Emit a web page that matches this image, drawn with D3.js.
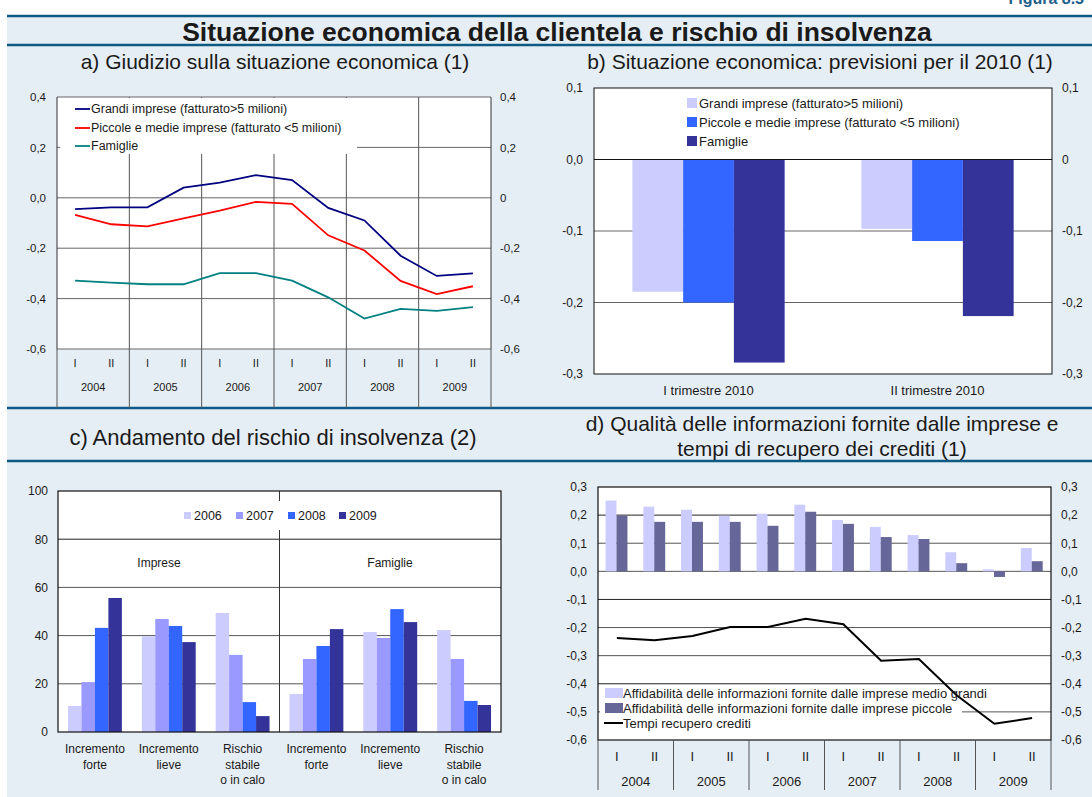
<!DOCTYPE html>
<html>
<head>
<meta charset="utf-8">
<script src="https://cdn.jsdelivr.net/npm/d3@7"></script>
<style>
body { margin: 0; background: #fff; }
svg text { font-family: "Liberation Sans", Arial, sans-serif; fill: #1a1a1a; }
</style>
</head>
<body>
<div id="chart"></div>
<script>
// ---- data ----
var anni = ["2004", "2005", "2006", "2007", "2008", "2009"];
var semestri = ["I", "II"];
var periodi = [];
anni.forEach(function(a){ semestri.forEach(function(s){ periodi.push(a + "-" + s); }); });

// a) giudizio sulla situazione economica
var grandiImprese  = [-0.045, -0.038, -0.038, 0.040, 0.060, 0.090, 0.070, -0.040, -0.090, -0.230, -0.310, -0.300];
var piccoleImprese = [-0.068, -0.105, -0.113, -0.082, -0.051, -0.016, -0.024, -0.149, -0.209, -0.330, -0.382, -0.351];
var famiglie       = [-0.329, -0.337, -0.343, -0.343, -0.299, -0.299, -0.329, -0.395, -0.479, -0.441, -0.449, -0.434];

// b) previsioni per il 2010
var trimestri2010 = ["I trimestre 2010", "II trimestre 2010"];
var prevGrandi   = [-0.185, -0.097];
var prevPiccole  = [-0.200, -0.114];
var prevFamiglie = [-0.284, -0.219];

// c) andamento del rischio di insolvenza
var rischioAnni = ["2006", "2007", "2008", "2009"];
var rischioVoci = ["Incremento forte", "Incremento lieve", "Rischio stabile o in calo"];
var rischioEtichette = [["Incremento", "forte"], ["Incremento", "lieve"], ["Rischio", "stabile", "o in calo"]];
var rischioImprese  = [[10.8, 20.7, 43.2, 55.6], [39.7, 46.9, 44.0, 37.3], [49.4, 32.0, 12.4, 6.6]];
var rischioFamiglie = [[15.8, 30.3, 35.7, 42.7], [41.5, 39.0, 51.0, 45.6], [42.3, 30.3, 12.9, 11.2]];

// d) qualita' delle informazioni e tempi di recupero
var affidGrandi   = [0.252, 0.230, 0.219, 0.198, 0.205, 0.237, 0.183, 0.158, 0.129, 0.068, 0.007, 0.083];
var affidPiccole  = [0.198, 0.176, 0.176, 0.176, 0.162, 0.212, 0.169, 0.122, 0.115, 0.029, -0.020, 0.036];
var tempiRecupero = [-0.237, -0.245, -0.230, -0.198, -0.198, -0.169, -0.188, -0.318, -0.312, -0.441, -0.542, -0.522];

var W = 1092, H = 797;
var blu = "#0d5a85", fondo = "#e6eef5", griglia = "#666";

var svg = d3.select("#chart").append("svg")
    .attr("width", W).attr("height", H);

svg.append("rect").attr("x", 7).attr("y", 16).attr("width", W - 7).attr("height", H - 16)
    .attr("fill", fondo);

// figure number, cut at the top edge
svg.append("text").attr("x", 1084).attr("y", 4).attr("text-anchor", "end")
    .style("font-size", "16px").style("font-weight", "bold").style("fill", "#1f5f8b")
    .text("Figura 8.5");

[16, 45, 408, 461].forEach(function(yy){
    svg.append("line").attr("x1", 7).attr("x2", W).attr("y1", yy).attr("y2", yy)
        .attr("stroke", blu).attr("stroke-width", 2.5);
});

svg.append("text").attr("x", 557).attr("y", 41).attr("text-anchor", "middle")
    .style("font-size", "26.5px").style("font-weight", "bold")
    .text("Situazione economica della clientela e rischio di insolvenza");

function sottotitolo(x, y, t, size) {
    svg.append("text").attr("x", x).attr("y", y).attr("text-anchor", "middle")
        .style("font-size", size || "21px").text(t);
}
sottotitolo(275, 69, "a) Giudizio sulla situazione economica (1)");
sottotitolo(820, 69, "b) Situazione economica: previsioni per il 2010 (1)");
sottotitolo(273, 445, "c) Andamento del rischio di insolvenza (2)", "22px");
sottotitolo(822, 431, "d) Qualità delle informazioni fornite dalle imprese e");
sottotitolo(822, 456, "tempi di recupero dei crediti  (1)");

function virgola(d) { return d3.format(".1f")(d).replace(".", ",").replace("−", "-"); }
function virgolaZero(d) { return d === 0 ? "0" : virgola(d); }

function asse(g, ax, size) {
    g.call(ax);
    g.select(".domain").remove();
    g.selectAll("text").style("font-size", size).style("font-family", null).attr("fill", null);
}

// period axis shared by panels a and d
function assePeriodi(g, x, yBase, yFondo, size, dy1, dy2) {
    var xa = g.append("g").attr("transform", "translate(0," + yBase + ")");
    xa.selectAll("text.sem").data(periodi).enter().append("text")
        .attr("x", function(d){ return x(d) + x.bandwidth() / 2; })
        .attr("y", dy1).attr("text-anchor", "middle").style("font-size", size)
        .text(function(d){ return d.split("-")[1]; });
    xa.selectAll("text.anno").data(anni).enter().append("text")
        .attr("x", function(d){ return x(d + "-I") + x.bandwidth(); })
        .attr("y", dy2).attr("text-anchor", "middle").style("font-size", size)
        .text(function(d){ return d; });
    var bordi = anni.map(function(d){ return x(d + "-I"); }).concat([x.range()[1]]);
    g.selectAll("line.sep").data(bordi).enter().append("line")
        .attr("x1", function(d){ return d; }).attr("x2", function(d){ return d; })
        .attr("y1", yBase).attr("y2", yFondo).attr("stroke", "#555").attr("stroke-width", 1);
}

// ---------------- a) ----------------
(function(){
    var x0 = 57, x1 = 491, yT = 97, yB = 349;
    var g = svg.append("g");
    var x = d3.scaleBand().domain(periodi).range([x0, x1]);
    var y = d3.scaleLinear().domain([-0.6, 0.4]).range([yB, yT]);

    g.append("rect").attr("x", x0).attr("y", yT).attr("width", x1 - x0).attr("height", yB - yT)
        .attr("fill", "#fff");
    var ticks = [-0.6, -0.4, -0.2, 0, 0.2, 0.4];
    g.selectAll("line.grid").data(ticks).enter().append("line")
        .attr("x1", x0).attr("x2", x1)
        .attr("y1", function(d){ return y(d); }).attr("y2", function(d){ return y(d); })
        .attr("stroke", griglia).attr("stroke-width", 1);
    // year separators run through the plot here
    var bordi = anni.slice(1).map(function(d){ return x(d + "-I"); });
    g.selectAll("line.vy").data(bordi).enter().append("line")
        .attr("x1", function(d){ return d; }).attr("x2", function(d){ return d; })
        .attr("y1", yT).attr("y2", yB).attr("stroke", "#555");
    g.append("line").attr("x1", x0).attr("x2", x0).attr("y1", yT).attr("y2", yB).attr("stroke", "#333");
    g.append("line").attr("x1", x1).attr("x2", x1).attr("y1", yT).attr("y2", yB).attr("stroke", "#333");

    assePeriodi(g, x, yB, 408, "11px", 18, 42);

    asse(g.append("g").attr("transform", "translate(" + x0 + ",0)"),
        d3.axisLeft(y).tickValues(ticks).tickFormat(virgola).tickSize(0).tickPadding(11), "11.5px");
    asse(g.append("g").attr("transform", "translate(" + x1 + ",0)"),
        d3.axisRight(y).tickValues(ticks).tickFormat(virgolaZero).tickSize(0).tickPadding(9), "11.5px");

    var serie = [
        { nome: "Grandi imprese (fatturato>5 milioni)", valori: grandiImprese, colore: "#000080" },
        { nome: "Piccole e medie imprese (fatturato <5 milioni)", valori: piccoleImprese, colore: "#ff0000" },
        { nome: "Famiglie", valori: famiglie, colore: "#008080" }
    ];
    // legend box hides the grid behind it
    g.append("rect").attr("x", 60).attr("y", 98).attr("width", 297).attr("height", 56).attr("fill", "#fff");

    var line = d3.line()
        .x(function(d, i){ return x(periodi[i]) + x.bandwidth() / 2; })
        .y(function(d){ return y(d); });
    serie.forEach(function(s, k){
        g.append("path").datum(s.valori).attr("d", line)
            .attr("fill", "none").attr("stroke", s.colore).attr("stroke-width", 1.8);
        var ly = [109, 128, 146][k];
        g.append("line").attr("x1", 75).attr("x2", 90).attr("y1", ly).attr("y2", ly)
            .attr("stroke", s.colore).attr("stroke-width", 1.8);
        g.append("text").attr("x", 91).attr("y", ly).attr("dy", "0.35em")
            .style("font-size", "12.5px").text(s.nome);
    });
})();

// ---------------- b) ----------------
(function(){
    var x0 = 594, x1 = 1052, yT = 88, yB = 374;
    var g = svg.append("g");
    var xg = d3.scaleBand().domain(trimestri2010).range([x0, x1]).paddingInner(0.335).paddingOuter(0.1675);
    var serie = [
        { nome: "Grandi imprese (fatturato>5 milioni)", valori: prevGrandi, colore: "#ccccff" },
        { nome: "Piccole e medie imprese (fatturato <5 milioni)", valori: prevPiccole, colore: "#3366ff" },
        { nome: "Famiglie", valori: prevFamiglie, colore: "#333399" }
    ];
    var xs = d3.scaleBand().domain(d3.range(serie.length)).range([0, xg.bandwidth()]);
    var y = d3.scaleLinear().domain([-0.3, 0.1]).range([yB, yT]);
    var ticks = [-0.3, -0.2, -0.1, 0, 0.1];

    g.append("rect").attr("x", x0).attr("y", yT).attr("width", x1 - x0).attr("height", yB - yT)
        .attr("fill", "#fff");
    g.selectAll("line.grid").data([-0.2, -0.1]).enter().append("line")
        .attr("x1", x0).attr("x2", x1)
        .attr("y1", function(d){ return y(d); }).attr("y2", function(d){ return y(d); })
        .attr("stroke", griglia);

    serie.forEach(function(s, k){
        g.selectAll("rect.b" + k).data(s.valori).enter().append("rect")
            .attr("x", function(d, i){ return xg(trimestri2010[i]) + xs(k); })
            .attr("width", xs.bandwidth())
            .attr("y", y(0)).attr("height", function(d){ return y(d) - y(0); })
            .attr("fill", s.colore);
        var ly = [103, 122, 141][k];
        g.append("rect").attr("x", 687).attr("y", ly - 5).attr("width", 10).attr("height", 10).attr("fill", s.colore);
        g.append("text").attr("x", 699).attr("y", ly).attr("dy", "0.35em")
            .style("font-size", "13px").text(s.nome);
    });
    g.append("line").attr("x1", x0).attr("x2", x1).attr("y1", y(0)).attr("y2", y(0)).attr("stroke", "#111");
    g.append("rect").attr("x", x0).attr("y", yT).attr("width", x1 - x0).attr("height", yB - yT)
        .attr("fill", "none").attr("stroke", "#111");

    asse(g.append("g").attr("transform", "translate(" + x0 + ",0)"),
        d3.axisLeft(y).tickValues(ticks).tickFormat(virgola).tickSize(0).tickPadding(11), "12px");
    asse(g.append("g").attr("transform", "translate(" + x1 + ",0)"),
        d3.axisRight(y).tickValues(ticks).tickFormat(virgolaZero).tickSize(0).tickPadding(10), "12px");
    asse(g.append("g").attr("transform", "translate(0," + yB + ")"),
        d3.axisBottom(xg).tickSize(0).tickPadding(12), "13px");
})();

// ---------------- c) ----------------
(function(){
    var x0 = 58, x1 = 501, yT = 491, yB = 732;
    var g = svg.append("g");
    var gruppi = [];
    ["Imprese", "Famiglie"].forEach(function(p){ rischioVoci.forEach(function(v){ gruppi.push(p + "|" + v); }); });
    var valori = rischioImprese.concat(rischioFamiglie);
    var etichette = rischioEtichette.concat(rischioEtichette);
    var xg = d3.scaleBand().domain(gruppi).range([x0, x1]).paddingInner(0.27).paddingOuter(0.135);
    var xs = d3.scaleBand().domain(rischioAnni).range([0, xg.bandwidth()]);
    var y = d3.scaleLinear().domain([0, 100]).range([yB, yT]);
    var colori = ["#ccccff", "#9999ff", "#3366ff", "#333399"];
    var ticks = [0, 20, 40, 60, 80, 100];
    var xm = (x0 + x1) / 2;

    g.append("rect").attr("x", x0).attr("y", yT).attr("width", x1 - x0).attr("height", yB - yT)
        .attr("fill", "#fff");
    g.selectAll("line.grid").data([20, 40, 60, 80]).enter().append("line")
        .attr("x1", x0).attr("x2", x1)
        .attr("y1", function(d){ return y(d); }).attr("y2", function(d){ return y(d); })
        .attr("stroke", function(d){ return d === 80 ? "#222" : "#555"; });
    g.append("line").attr("x1", xm).attr("x2", xm).attr("y1", yT).attr("y2", yB).attr("stroke", "#333");

    valori.forEach(function(vs, i){
        g.selectAll("rect.g" + i).data(vs).enter().append("rect")
            .attr("x", function(d, k){ return xg(gruppi[i]) + xs(rischioAnni[k]); })
            .attr("width", xs.bandwidth())
            .attr("y", function(d){ return y(d); })
            .attr("height", function(d){ return yB - y(d); })
            .attr("fill", function(d, k){ return colori[k]; });
        var t = g.append("text").attr("text-anchor", "middle").style("font-size", "12px");
        etichette[i].forEach(function(r, j){
            t.append("tspan").attr("x", xg(gruppi[i]) + xg.bandwidth() / 2)
                .attr("y", yB + 21 + j * 15.5).text(r);
        });
    });

    // legend
    g.append("rect").attr("x", 175).attr("y", 501).attr("width", 210).attr("height", 29).attr("fill", "#fff");
    var lx = [184, 236, 288, 339];
    rischioAnni.forEach(function(a, k){
        g.append("rect").attr("x", lx[k]).attr("y", 512).attr("width", 7).attr("height", 7).attr("fill", colori[k]);
        g.append("text").attr("x", lx[k] + 10).attr("y", 516).attr("dy", "0.35em")
            .style("font-size", "12.5px").text(a);
    });
    g.append("text").attr("x", 159).attr("y", 563).attr("dy", "0.35em").attr("text-anchor", "middle")
        .style("font-size", "12px").text("Imprese");
    g.append("text").attr("x", 390).attr("y", 563).attr("dy", "0.35em").attr("text-anchor", "middle")
        .style("font-size", "12px").text("Famiglie");

    g.append("rect").attr("x", x0).attr("y", yT).attr("width", x1 - x0).attr("height", yB - yT)
        .attr("fill", "none").attr("stroke", "#111").attr("stroke-width", 1.2);

    asse(g.append("g").attr("transform", "translate(" + x0 + ",0)"),
        d3.axisLeft(y).tickValues(ticks).tickFormat(d3.format("d")).tickSize(0).tickPadding(10), "12px");
})();

// ---------------- d) ----------------
(function(){
    var x0 = 598, x1 = 1051, yT = 487, yB = 740;
    var g = svg.append("g");
    var x = d3.scaleBand().domain(periodi).range([x0, x1]);
    var xs = d3.scaleBand().domain(["grandi", "piccole"])
        .range([x.bandwidth() * 0.2, x.bandwidth() * 0.78]);
    var y = d3.scaleLinear().domain([-0.6, 0.3]).range([yB, yT]);
    var ticks = d3.range(-6, 4).map(function(d){ return d / 10; });

    g.append("rect").attr("x", x0).attr("y", yT).attr("width", x1 - x0).attr("height", yB - yT)
        .attr("fill", "#fff");
    g.selectAll("line.grid").data(ticks.slice(1, -1)).enter().append("line")
        .attr("x1", x0).attr("x2", x1)
        .attr("y1", function(d){ return y(d); }).attr("y2", function(d){ return y(d); })
        .attr("stroke", function(d){ return (d === 0.2 || d === -0.1 || d === -0.4) ? "#222" : "#555"; });

    g.selectAll("rect.ag").data(affidGrandi).enter().append("rect")
        .attr("x", function(d, i){ return x(periodi[i]) + xs("grandi"); })
        .attr("width", xs.bandwidth())
        .attr("y", function(d){ return y(Math.max(0, d)); })
        .attr("height", function(d){ return Math.abs(y(d) - y(0)); })
        .attr("fill", "#ccccff");
    g.selectAll("rect.ap").data(affidPiccole).enter().append("rect")
        .attr("x", function(d, i){ return x(periodi[i]) + xs("piccole"); })
        .attr("width", xs.bandwidth())
        .attr("y", function(d){ return y(Math.max(0, d)); })
        .attr("height", function(d){ return Math.abs(y(d) - y(0)); })
        .attr("fill", "#666699");

    // legend box
    g.append("rect").attr("x", 600).attr("y", 685).attr("width", 362).attr("height", 52).attr("fill", "#fff");
    g.append("path").datum(tempiRecupero)
        .attr("d", d3.line()
            .x(function(d, i){ return x(periodi[i]) + x.bandwidth() / 2; })
            .y(function(d){ return y(d); }))
        .attr("fill", "none").attr("stroke", "#000").attr("stroke-width", 2);

    var voci = [
        { nome: "Affidabilità delle informazioni fornite dalle imprese medio grandi", colore: "#ccccff" },
        { nome: "Affidabilità delle informazioni fornite dalle imprese piccole", colore: "#666699" },
        { nome: "Tempi recupero crediti", colore: "#000" }
    ];
    voci.forEach(function(v, k){
        var ly = [693, 708, 723][k];
        if (k < 2) {
            g.append("rect").attr("x", 605).attr("y", ly - 5).attr("width", 18).attr("height", 10).attr("fill", v.colore);
        } else {
            g.append("line").attr("x1", 604).attr("x2", 623).attr("y1", ly).attr("y2", ly)
                .attr("stroke", "#000").attr("stroke-width", 2);
        }
        g.append("text").attr("x", 623).attr("y", ly).attr("dy", "0.35em")
            .style("font-size", "13px").text(v.nome);
    });

    g.append("rect").attr("x", x0).attr("y", yT).attr("width", x1 - x0).attr("height", yB - yT)
        .attr("fill", "none").attr("stroke", "#111").attr("stroke-width", 1.2);

    assePeriodi(g, x, yB, 790, "13px", 21, 46);

    asse(g.append("g").attr("transform", "translate(" + x0 + ",0)"),
        d3.axisLeft(y).tickValues(ticks).tickFormat(virgola).tickSize(0).tickPadding(11), "12px");
    asse(g.append("g").attr("transform", "translate(" + x1 + ",0)"),
        d3.axisRight(y).tickValues(ticks).tickFormat(virgola).tickSize(0).tickPadding(10), "12px");
})();
</script>
</body>
</html>
